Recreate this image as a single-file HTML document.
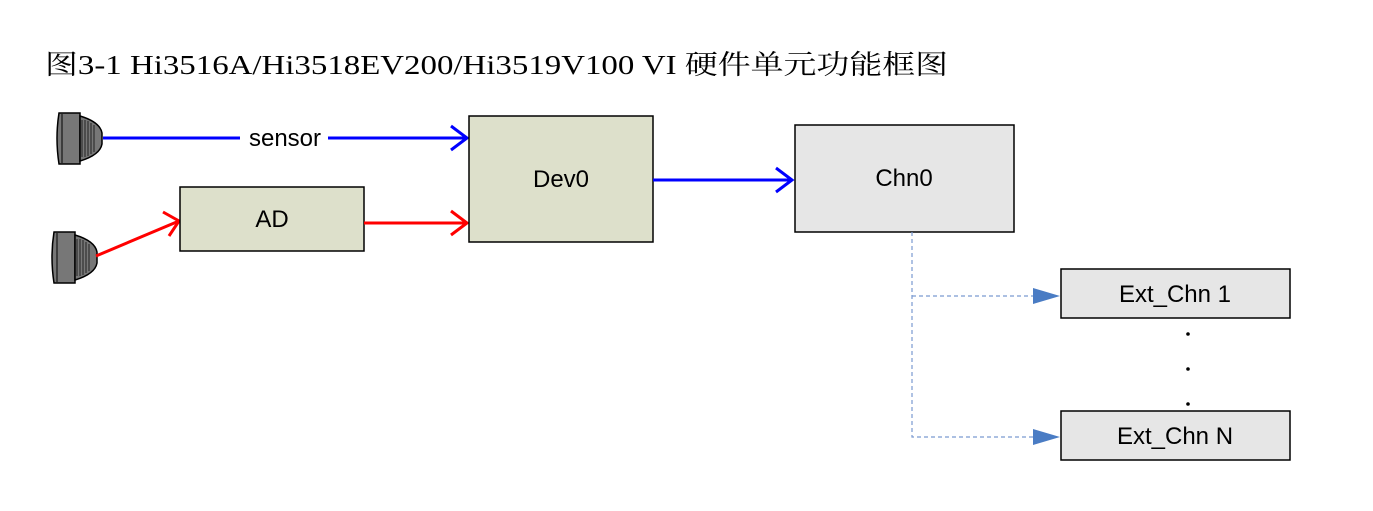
<!DOCTYPE html>
<html><head><meta charset="utf-8"><style>html,body{margin:0;padding:0;background:#fff;width:1373px;height:511px;overflow:hidden}</style></head><body>
<svg width="1373" height="511" xmlns="http://www.w3.org/2000/svg">
<text x="45" y="74" font-family="Liberation Serif, Noto Serif CJK SC, serif" font-size="27" fill="#000" textLength="903" lengthAdjust="spacingAndGlyphs">图3-1  Hi3516A/Hi3518EV200/Hi3519V100 VI 硬件单元功能框图</text>
<g id="cam">
<path d="M59,113 L80,113 L80,164 L59,164 Q55,138 59,113 Z" fill="#777" stroke="#000" stroke-width="1.5"/>
<path d="M80,116 Q100,122 102,133 L102,144 Q100,155 80,161 Z" fill="#777" stroke="#000" stroke-width="1.5"/>
<g stroke="#222" stroke-width="1"><line x1="82" y1="120" x2="82" y2="157"/><line x1="85" y1="120" x2="85" y2="157"/><line x1="88" y1="121" x2="88" y2="156"/><line x1="91" y1="123" x2="91" y2="154"/><line x1="94" y1="125" x2="94" y2="152"/></g>
<line x1="62" y1="114" x2="62" y2="163" stroke="#000"/>
</g>
<use href="#cam" transform="translate(-5,119)"/>
<line x1="103" y1="138" x2="467" y2="138" stroke="#0000ff" stroke-width="3"/>
<polyline points="451,126 467,138 451,150" fill="none" stroke="#0000ff" stroke-width="3"/>
<rect x="240" y="125" width="88" height="24" fill="#fff"/>
<text x="285" y="146" text-anchor="middle" font-family="Liberation Sans, sans-serif" font-size="24">sensor</text>
<line x1="96" y1="256" x2="179" y2="221" stroke="#ff0000" stroke-width="3"/>
<polyline points="163,212 179,221 169,236" fill="none" stroke="#ff0000" stroke-width="3"/>
<rect x="180" y="187" width="184" height="64" fill="#dde0cb" stroke="#000" stroke-width="1.5"/>
<text x="272" y="227" text-anchor="middle" font-family="Liberation Sans, sans-serif" font-size="24">AD</text>
<line x1="364" y1="223" x2="467" y2="223" stroke="#ff0000" stroke-width="3"/>
<polyline points="451,211 467,223 451,235" fill="none" stroke="#ff0000" stroke-width="3"/>
<rect x="469" y="116" width="184" height="126" fill="#dde0cb" stroke="#000" stroke-width="1.5"/>
<text x="561" y="187" text-anchor="middle" font-family="Liberation Sans, sans-serif" font-size="24">Dev0</text>
<line x1="653" y1="180" x2="792" y2="180" stroke="#0000ff" stroke-width="3"/>
<polyline points="776,168 792,180 776,192" fill="none" stroke="#0000ff" stroke-width="3"/>
<rect x="795" y="125" width="219" height="107" fill="#e6e6e6" stroke="#000" stroke-width="1.5"/>
<text x="904" y="186" text-anchor="middle" font-family="Liberation Sans, sans-serif" font-size="24">Chn0</text>
<g stroke="#7a9ad0" stroke-width="1.2" stroke-dasharray="4,3" fill="none">
<polyline points="912,232 912,437 1035,437"/>
<line x1="912" y1="296" x2="1035" y2="296"/>
</g>
<polygon points="1033,288 1060,296 1033,304" fill="#4a7cc4"/>
<polygon points="1033,429 1060,437 1033,445" fill="#4a7cc4"/>
<rect x="1061" y="269" width="229" height="49" fill="#e6e6e6" stroke="#000" stroke-width="1.5"/>
<text x="1175" y="302" text-anchor="middle" font-family="Liberation Sans, sans-serif" font-size="24">Ext_Chn 1</text>
<rect x="1061" y="411" width="229" height="49" fill="#e6e6e6" stroke="#000" stroke-width="1.5"/>
<text x="1175" y="444" text-anchor="middle" font-family="Liberation Sans, sans-serif" font-size="24">Ext_Chn N</text>
<circle cx="1188" cy="334" r="1.8"/><circle cx="1188" cy="369" r="1.8"/><circle cx="1188" cy="404" r="1.8"/>
</svg>
</body></html>
